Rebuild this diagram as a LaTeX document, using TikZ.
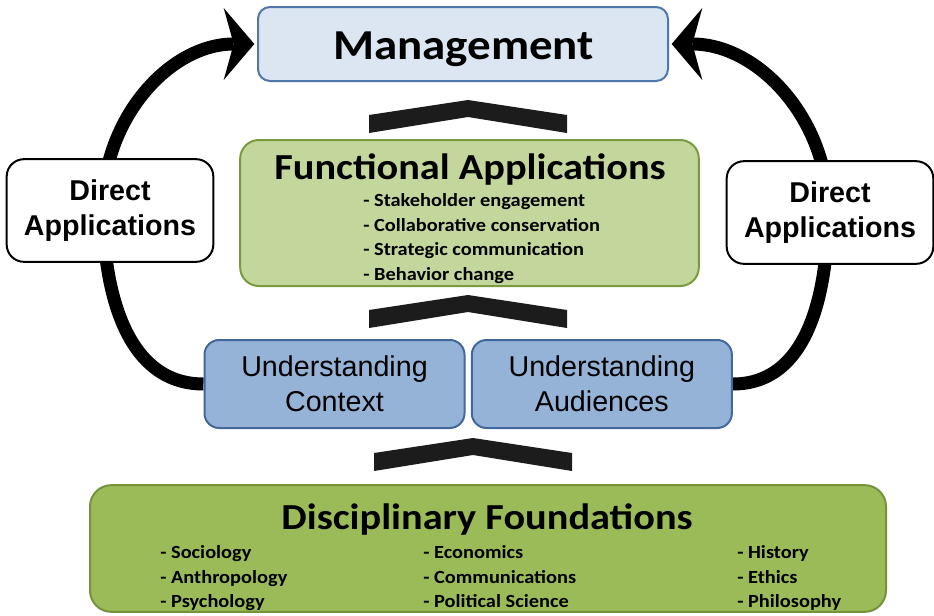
\documentclass[tikz,border=0pt]{standalone}
\usepackage{fontspec}
\setmainfont{Carlito}[FakeStretch=1.1]
\newfontfamily\arialfont{Liberation Sans}
\usetikzlibrary{arrows.meta,positioning,backgrounds}

\definecolor{mgmtfill}{HTML}{DCE6F2}
\definecolor{mgmtline}{HTML}{4F77AA}
\definecolor{funcfill}{HTML}{C3D69B}
\definecolor{funcline}{HTML}{7A9A3E}
\definecolor{undfill}{HTML}{95B3D7}
\definecolor{undline}{HTML}{41679C}
\definecolor{discfill}{HTML}{9BBB59}
\definecolor{discline}{HTML}{76923C}
\definecolor{chevfill}{HTML}{1C1C1C}

\begin{document}
\begin{tikzpicture}[x=0.75pt, y=0.75pt,
  box/.style={draw, line width=1.5pt, inner sep=0pt, align=center},
  mgmtbox/.style={box, draw=mgmtline, fill=mgmtfill, rounded corners=9pt,
                  minimum width=307.5pt, minimum height=55.5pt},
  funcbox/.style={box, draw=funcline, fill=funcfill, rounded corners=14pt,
                  minimum width=344pt, minimum height=109.5pt},
  undbox/.style={box, draw=undline, fill=undfill, rounded corners=11pt,
                 minimum width=195pt, minimum height=66pt,
                 font=\arialfont\fontsize{21.5}{26.25}\selectfont},
  discbox/.style={box, draw=discline, fill=discfill, rounded corners=16pt,
                  minimum width=597pt, minimum height=95pt},
  directbox/.style={box, draw=black, fill=white, rounded corners=13pt,
                    minimum width=155pt, minimum height=77pt,
                    font=\arialfont\bfseries\fontsize{21.5}{26.25}\selectfont},
  headtext/.style={inner sep=0pt, anchor=base, font=\bfseries\fontsize{27.5}{30}\selectfont},
  itemtext/.style={inner sep=0pt, align=left, anchor=north west,
                   font=\bfseries\fontsize{13.9}{18.6}\selectfont},
  bigarr/.style={line width=9.75pt,
                 -{Stealth[length=23pt, width=54pt, inset=7.5pt, line width=0pt]},
                 shorten >=2pt},
  upchevron/.pic={\fill[chevfill] (0,0) -- (99,-15) -- (99,-33) -- (0,-17)
                   -- (-99,-33) -- (-99,-15) -- cycle;}]
\useasboundingbox (0,0) rectangle (934,-615);

% layer boxes
\node[mgmtbox] (mgmt) at (463,-44) {};
\node[funcbox] (func) at (469.5,-213) {};
\node[undbox] (ctx) at (334.5,-384) {Understanding\\Context};
\node[undbox, right=4pt of ctx] (aud) {Understanding\\Audiences};
\node[discbox] (disc) at (488,-548.5) {};

% titles and lists
\node[headtext, font=\bfseries\fontsize{32}{32}\selectfont] (mgmttitle) at (463.5,-59)
  {Management};
\node[headtext] (functitle) at (470,-179) {Functional Applications};
\node[itemtext] (funclist) at (363,-193)
  {- Stakeholder engagement\\- Collaborative conservation\\
   - Strategic communication\\- Behavior change};
\node[headtext] (disctitle) at (487,-529) {Disciplinary Foundations};
\node[itemtext] (discsoc) at (160,-545) {- Sociology\\- Anthropology\\- Psychology};
\node[itemtext] (disceco) at (423,-545) {- Economics\\- Communications\\- Political Science};
\node[itemtext] (dischis) at (737,-545) {- History\\- Ethics\\- Philosophy};

% chevrons between the layers
\pic at (468,-100) {upchevron};
\pic at (468,-295) {upchevron};
\pic at (473,-438) {upchevron};

% direct application loops, behind the side boxes
\coordinate (lbend) at (103,-207);
\coordinate (rbend) at (828,-210);
\begin{scope}[on background layer]
\draw[bigarr] (ctx.west) to[out=180, in=-90] (lbend) to[out=90, in=180] (mgmt.west);
\draw[bigarr] (aud.east) to[out=0, in=-90] (rbend) to[out=90, in=0] (mgmt.east);
\end{scope}
\node[directbox] (dirl) at (110,-210.5) {Direct\\Applications};
\node[directbox] (dirr) at (830,-212.5) {Direct\\Applications};
\end{tikzpicture}
\end{document}
